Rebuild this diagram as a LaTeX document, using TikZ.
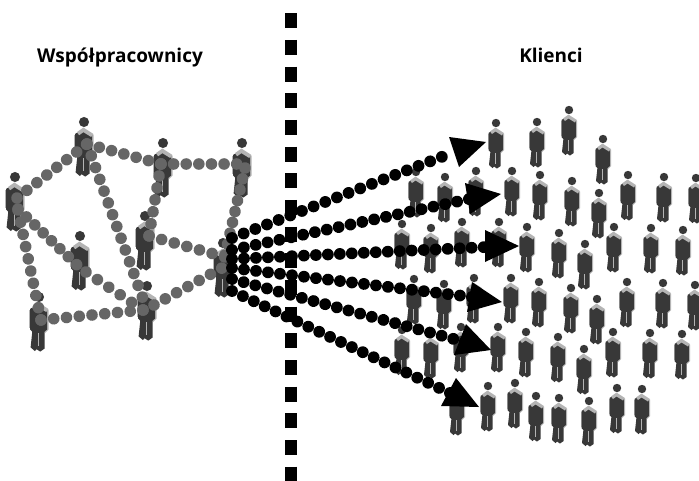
\documentclass[tikz,border=0pt]{standalone}
\usepackage{fontspec}
\setmainfont{Open Sans}
\usetikzlibrary{decorations.markings}
\definecolor{pdark}{HTML}{383838}
\definecolor{plight}{HTML}{B4B4B4}
\definecolor{dotgray}{HTML}{666666}
\tikzset{
  x=1pt,y=-1pt,
  title/.style={font=\fontsize{19}{22}\selectfont\bfseries,text=black,inner sep=0pt,anchor=base},
  chain/.style n args={3}{decorate,decoration={markings,
    mark=between positions 0 and 1 step #1/1000 with {\fill[#2] (0,0) circle (#3);}}},
  graychain/.style={chain={#1}{dotgray}{5.8}},
  blackchain/.style={chain={#1}{black}{5.9}},
  arrowhead/.style={fill=black},
  person/.pic={
    \fill[plight] (5,9) -- (8,10.5) -- (8,27) -- (5,30) -- cycle;
    \fill[plight] (-8.2,11) -- (-6,11) -- (-6,26) -- (-8.2,26) -- cycle;
    \fill[pdark] (-7.5,10) -- (-1,6) -- (6.8,10.5) -- (6.8,27) -- (4.6,29)
       -- (4.6,43) -- (1,45.5) -- (-2,43.5) -- (-3.5,45) -- (-7,42) -- (-5.6,29) -- (-7.5,27) -- cycle;
    \fill[plight] (-6,8.5) -- (-0.5,4.6) -- (7.6,9.8) -- (6,12.5) -- (-0.5,8.5) -- (-4,11) -- cycle;
    \draw[plight,line width=.6pt] (-1,30) -- (-1,41);
    \fill[pdark] (0,0) circle (4.2);
  }
}
\begin{document}
\begin{tikzpicture}
\useasboundingbox (0,0) rectangle (699,480);
\fill[white] (0,0) rectangle (699,480);

\coordinate (divtop) at (291,13.3);
\coordinate (divbot) at (291,482);
\draw[line width=12pt,dash pattern=on 15pt off 11.67pt] (divtop) -- (divbot);

\node[title] (tleft) at (120,62) {Współpracownicy};
\node[title] (tright) at (551,62) {Klienci};

\foreach \hx/\hy in {
 496/123,537/122,569/110,603/139,
 416/172,445/177,476/171,512/171,540/175,572/181,599/193,628/175,664/177,696/178,
 402/224,431/228,462/222,499/222,527/227,559/233,585/244,614/227,651/228,683/230,
 414/279,444/284,474/278,511/278,539/282,571/288,597/299,627/282,663/283,695/285,
 402/330,431/333,461/327,498/327,526/332,558/337,584/349,613/332,650/333,682/334,
 457/390,488/386,515/383,536/396,559/398,589/401,617/388,642/389}
  \pic at (\hx,\hy) {person};

\foreach \hx/\hy in {15/177,84/122,163/143,242/143,145/216,80/236,147/286,39/297,223/243}
  \pic[scale=1.2] at (\hx,\hy) {person};

\coordinate (a1) at (17,198);
\coordinate (a2) at (18,209);
\coordinate (a3) at (18,210);
\coordinate (b1) at (87,144);
\coordinate (c1) at (161,164);
\coordinate (d1) at (237,164);
\coordinate (d2) at (245,168);
\coordinate (e1) at (149,236);
\coordinate (f1) at (77,265);
\coordinate (f2) at (86,272);
\coordinate (g1) at (143,299);
\coordinate (g2) at (143,310);
\coordinate (g3) at (154,305);
\coordinate (h1) at (41,320);
\coordinate (i1) at (225,257);
\coordinate (i2) at (225,255);
\coordinate (i3) at (222,268);

\path[graychain=142] (a1) -- (b1);
\path[graychain=166] (b1) -- (c1);
\path[graychain=166] (c1) -- (d1);
\path[graychain=76] (b1) -- (g1);
\path[graychain=166] (c1) -- (e1);
\path[graychain=166] (e1) -- (i1);
\path[graychain=125] (d2) -- (i2);
\path[graychain=142] (a2) -- (f1);
\path[graychain=200] (f2) -- (g2);
\path[graychain=111] (a3) -- (h1);
\path[graychain=125] (h1) -- (g2);
\path[graychain=166] (g3) -- (i3);

\coordinate (s1) at (232,238);
\coordinate (s2) at (232,250);
\coordinate (s3) at (232,259);
\coordinate (s4) at (232,268);
\coordinate (s5) at (232,279);
\coordinate (s6) at (232,291);
\coordinate (t1) at (444,156);
\coordinate (t2) at (469,199);
\coordinate (t3) at (487,247);
\coordinate (t4) at (472,297);
\coordinate (t5) at (465,342);
\coordinate (t6) at (450,393);

\path[blackchain=55] (s1) -- (t1);
\path[blackchain=50] (s2) -- (t2);
\path[blackchain=47] (s3) -- (t3);
\path[blackchain=50] (s4) -- (t4);
\path[blackchain=50] (s5) -- (t5);
\path[blackchain=50] (s6) -- (t6);

\fill[arrowhead] (449,137) -- (486,142) -- (459,167) -- cycle;
\fill[arrowhead] (465,183) -- (501,194) -- (470,214) -- cycle;
\fill[arrowhead] (485,230) -- (519,246) -- (485,262) -- cycle;
\fill[arrowhead] (472,282) -- (502,302) -- (467,312) -- cycle;
\fill[arrowhead] (466,324) -- (491,350) -- (454,355) -- cycle;
\fill[arrowhead] (456,378) -- (479,407) -- (441,406) -- cycle;
\end{tikzpicture}
\end{document}
